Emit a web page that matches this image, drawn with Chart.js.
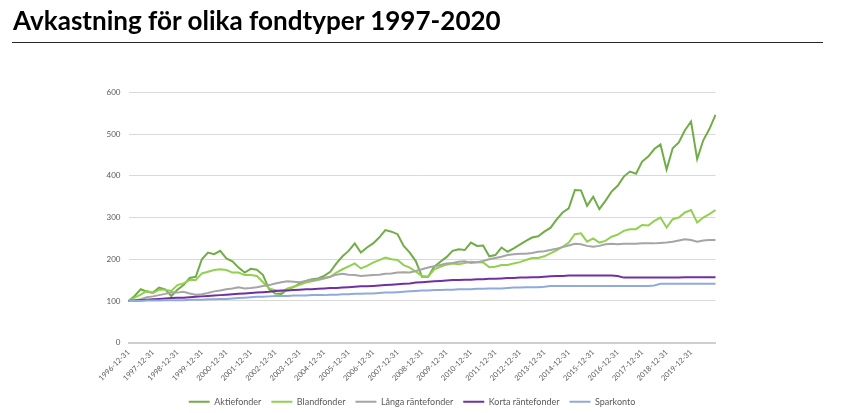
<!DOCTYPE html>
<html>
<head>
<meta charset="utf-8">
<script src="https://cdn.jsdelivr.net/npm/chart.js@4"></script>
<style>
html,body{margin:0;padding:0;background:#fff;width:850px;height:413px;overflow:hidden;}
#wrap{position:absolute;left:0;top:0;width:850px;height:420px;}
#title{position:absolute;left:13px;top:5px;font-family:Lato,sans-serif;font-weight:bold;font-size:24px;color:#000;white-space:nowrap;line-height:1.2;}
#rule{position:absolute;left:12px;top:42px;width:811px;height:0;border-top:1.5px solid #262626;}
</style>
</head>
<body>
<div id="wrap"><canvas id="c" width="850" height="420"></canvas></div>
<div id="title">Avkastning för olika fondtyper 1997-2020</div>
<div id="rule"></div>
<script>
// Categories: quarter-end dates from 1996-12-31 to 2020-12-31
const quarterEnds = ['03-31', '06-30', '09-30', '12-31'];
const categories = ['1996-12-31'];
for (let y = 1997; y <= 2020; y++) for (const q of quarterEnds) categories.push(y + '-' + q);

// Tick labels shown on the x axis
const tickLabels = ['1996-12-31','1997-12-31','1998-12-31','1999-12-31','2000-12-31','2001-12-31',
  '2002-12-31','2003-12-31','2004-12-31','2005-12-31','2006-12-31','2007-12-31','2008-12-31',
  '2009-12-31','2010-12-31','2011-12-31','2012-12-31','2013-12-31','2014-12-31','2015-12-31',
  '2016-12-31','2017-12-31','2018-12-31','2019-12-31'];

const aktiefonder = [100,112,128,122,120,132,128,112,127,138,155,158,200,
  216,212,220,202,195,180,168,177,175,162,128,118,
  117,128,133,142,148,152,154,160,170,190,207,220,
  238,216,228,238,252,270,266,260,232,216,195,158,
  158,182,194,205,220,224,222,240,232,233,207,210,
  228,218,226,235,244,252,255,266,275,295,312,322,
  366,365,328,350,320,340,362,376,398,410,405,434,
  446,464,475,415,466,480,509,530,440,485,512,546];

const blandfonder = [100,108,115,124,119,127,127,124,138,142,150,150,166,
  170,174,176,174,168,168,162,162,160,145,130,126,
  122,130,134,139,144,147,150,154,158,168,176,183,
  190,178,184,192,198,204,200,198,186,180,170,160,
  158,176,182,187,190,188,191,194,193,192,181,182,
  186,186,190,193,198,203,203,207,214,221,230,240,
  260,262,242,250,240,244,254,259,268,272,272,282,
  281,292,300,276,296,300,312,318,288,300,308,318];

const langaRantefonder = [100,101,104,109,111,114,117,121,120,122,118,115,116,
  119,123,125,128,130,133,130,131,133,136,138,142,
  145,147,146,145,148,150,152,155,158,163,165,163,
  162,160,161,162,163,165,166,168,169,168,172,176,
  180,183,186,190,191,194,195,191,193,196,200,203,
  206,210,212,213,213,215,218,219,222,225,229,233,
  237,236,232,230,232,236,237,236,237,237,237,238,
  238,238,239,240,242,245,248,246,242,245,246,246];

const kortaRantefonder = [100,101,102,103,104,105,106,107,108,108,109,110,111,
  112,113,114,115,116,117,118,119,120,121,122,124,
  125,125,126,127,128,128,129,130,131,131,132,133,
  134,135,135,136,137,138,139,140,141,142,144,145,
  146,147,148,149,150,150,151,151,152,152,153,153,
  154,155,155,156,156,157,157,158,159,160,160,161,
  161,161,161,161,161,161,161,160,156,156,156,156,
  156,156,156,156,156,156,157,157,157,157,157,157];

const sparkonto = [100,100,100,101,101,101,102,102,102,102,103,103,103,
  104,104,105,105,106,107,108,109,110,110,111,112,
  112,112,113,113,113,114,114,114,115,115,116,116,
  117,117,118,118,119,120,120,121,122,123,124,125,
  125,126,126,127,127,128,128,128,129,129,130,130,
  130,131,132,132,133,133,133,134,136,136,136,136,
  136,136,136,136,136,136,136,136,136,136,136,136,
  136,137,141,141,141,141,141,141,141,141,141,141];

const seriesNames = ['Aktiefonder', 'Blandfonder', 'Långa räntefonder', 'Korta räntefonder', 'Sparkonto'];
const seriesColors = ['#70AD47', '#92D050', '#A5A5A5', '#7030A0', '#8FAADC'];
const seriesData = [aktiefonder, blandfonder, langaRantefonder, kortaRantefonder, sparkonto];
const yTicks = [0, 100, 200, 300, 400, 500, 600];

// fit title width
(function(){
  const t = document.getElementById('title');
  const w = t.getBoundingClientRect().width;
  t.style.fontSize = (24 * 488 / w) + 'px';
})();

const FONT = 'Lato, sans-serif';
const datasets = seriesData.map((d, i) => ({
  label: seriesNames[i],
  data: d,
  borderColor: seriesColors[i],
  backgroundColor: seriesColors[i],
  borderWidth: 2,
  pointRadius: 0,
  pointHoverRadius: 0,
  tension: 0,
  fill: false,
  order: 4 - i
}));

const legendShift = {
  id: 'legendShift',
  afterLayout(chart) {
    const lg = chart.legend;
    if (!lg) return;
    const target = 412;
    const d = target - (lg.left + lg.right) / 2;
    lg.left += d; lg.right += d;
  }
};

new Chart(document.getElementById('c'), {
  type: 'line',
  data: { labels: categories, datasets },
  plugins: [legendShift],
  options: {
    responsive: false,
    animation: false,
    devicePixelRatio: 1,
    events: [],
    layout: { padding: { left: 90, right: 134.5, top: 92.3, bottom: 3.8 } },
    plugins: {
      title: { display: false },
      tooltip: { enabled: false },
      legend: {
        display: true,
        position: 'bottom',
        labels: {
          usePointStyle: true,
          pointStyle: 'line',
          pointStyleWidth: 21,
          boxHeight: 9,
          padding: 10,
          color: '#595959',
          font: { family: FONT, size: 9 },
          sort: (a, b) => a.datasetIndex - b.datasetIndex
        }
      }
    },
    scales: {
      x: {
        type: 'category',
        offset: false,
        grid: { display: false, drawTicks: false },
        border: { display: true, color: '#cfcfcf', width: 2, dash: [1, 1] },
        ticks: {
          autoSkip: false,
          maxRotation: 45,
          minRotation: 45,
          padding: 5,
          color: '#595959',
          font: { family: FONT, size: 7.5 },
          callback: function(v, i) { const l = categories[i]; return tickLabels.includes(l) ? l : ''; }
        },
        afterFit: s => { s.height = 44.5; }
      },
      y: {
        min: 0,
        max: 600,
        afterBuildTicks: s => { s.ticks = yTicks.map(v => ({ value: v })); },
        grid: {
          drawTicks: false,
          color: c => (c.tick && c.tick.value === 0) ? 'rgba(0,0,0,0)' : '#D9D9D9',
          lineWidth: 1
        },
        border: { display: false },
        ticks: { padding: 8, color: '#595959', font: { family: FONT, size: 8 } },
        afterFit: s => { s.width = 38.5; }
      }
    }
  }
});
</script>
</body>
</html>
